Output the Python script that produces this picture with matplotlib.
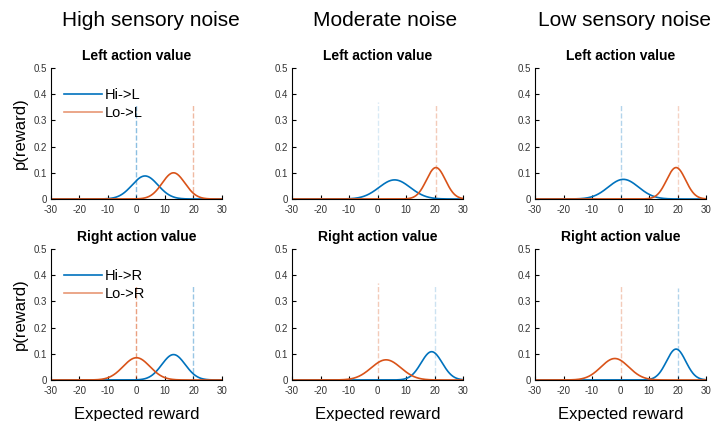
import numpy as np
import matplotlib
matplotlib.use("Agg")
import matplotlib.pyplot as plt

plt.rcParams['font.family'] = ['Liberation Sans', 'DejaVu Sans']
plt.rcParams['axes.unicode_minus'] = False

# column titles
col_titles = ['High sensory noise', 'Moderate noise', 'Low sensory noise']
row_titles = ['Left action value', 'Right action value']
legend_labels = [['Hi->L', 'Lo->L'], ['Hi->R', 'Lo->R']]

# gaussian parameters: (mean, peak height)
# rows: left / right action value, cols: high / moderate / low noise
blue_mean = [[3, 6, 1], [13, 19, 19.5]]
blue_peak = [[0.088, 0.073, 0.075], [0.097, 0.108, 0.118]]
red_mean = [[13, 20.5, 19.5], [0, 3, -2]]
red_peak = [[0.100, 0.120, 0.120], [0.085, 0.077, 0.082]]

# dashed marker lines: (x, height, alpha)
blue_dash = [[(0, 0.36, 0.45), (0, 0.37, 0.15), (0, 0.36, 0.3)],
             [(20, 0.36, 0.4), (20, 0.36, 0.2), (20, 0.35, 0.3)]]
red_dash = [[(20, 0.36, 0.4), (20.5, 0.36, 0.3), (20, 0.36, 0.25)],
            [(0, 0.36, 0.55), (0, 0.37, 0.3), (0, 0.36, 0.3)]]

blue = '#0072BD'
red = '#D95319'

x = np.linspace(-30, 30, 601)


def gauss(mu, peak):
    sd = 1.0 / (np.sqrt(2 * np.pi) * peak)
    return peak * np.exp(-0.5 * ((x - mu) / sd) ** 2)


fig = plt.figure(figsize=(7.11, 4.21), dpi=100)

lefts = [0.0717, 0.4107, 0.7525]
bottoms = [0.5273, 0.0974]
w, h = 0.2405, 0.3112

for r in range(2):
    for c in range(3):
        ax = fig.add_axes([lefts[c], bottoms[r], w, h])
        bd = blue_dash[r][c]
        rd = red_dash[r][c]
        ax.plot([bd[0], bd[0]], [0, bd[1]], '--', color=blue, alpha=bd[2], lw=1)
        ax.plot([rd[0], rd[0]], [0, rd[1]], '--', color=red, alpha=rd[2], lw=1)
        ax.plot(x, gauss(blue_mean[r][c], blue_peak[r][c]), color=blue, lw=1.2,
                label=legend_labels[r][0])
        ax.plot(x, gauss(red_mean[r][c], red_peak[r][c]), color=red, lw=1.2,
                label=legend_labels[r][1])
        ax.set_xlim(-30, 30)
        ax.set_ylim(0, 0.5)
        ax.set_xticks([-30, -20, -10, 0, 10, 20, 30])
        ax.set_yticks([0, 0.1, 0.2, 0.3, 0.4, 0.5])
        ax.set_yticklabels(['0', '0.1', '0.2', '0.3', '0.4', '0.5'])
        ax.spines['top'].set_visible(False)
        ax.spines['right'].set_visible(False)
        ax.tick_params(direction='in', length=3, width=0.8, labelsize=7,
                       labelcolor='#333333')
        ax.tick_params(axis='x', pad=4)
        ax.tick_params(axis='y', pad=3)
        ax.set_title(row_titles[r], fontsize=10, fontweight='bold', pad=6)
        if c == 0:
            ax.set_ylabel('p(reward)', fontsize=12, labelpad=4)
            leg = ax.legend(loc='upper left', frameon=False, fontsize=10.5,
                            handlelength=2.6, handletextpad=0.2,
                            borderaxespad=0.0, labelspacing=0.25,
                            bbox_to_anchor=(0.04, 0.89))
            leg.get_lines()[1].set_alpha(0.6)
        if r == 1:
            ax.set_xlabel('Expected reward', fontsize=12, labelpad=8)

fig.text(151 / 711, 0.952, col_titles[0], fontsize=15, ha='center', va='center')
fig.text(385 / 711, 0.952, col_titles[1], fontsize=15, ha='center', va='center')
fig.text(538 / 711, 0.952, col_titles[2], fontsize=15, ha='left', va='center')

fig.savefig('out.png', dpi=100)
